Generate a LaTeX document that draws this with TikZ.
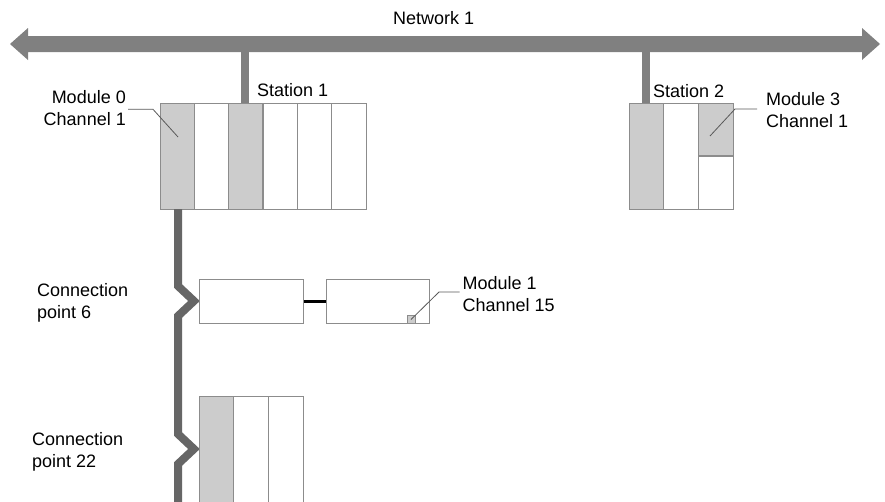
\documentclass[tikz,border=0pt]{standalone}
\usepackage{fontspec}
\setmainfont{Liberation Sans}
\usetikzlibrary{arrows.meta}
\definecolor{netgray}{HTML}{808080}
\definecolor{busgray}{HTML}{666666}
\definecolor{edgegray}{HTML}{8C8C8C}
\definecolor{slotgray}{HTML}{CCCCCC}
\begin{document}
\begin{tikzpicture}[x=1pt,y=-1pt,
  lab/.style={inner sep=0pt, font=\fontsize{18}{21.5}\selectfont},
  rack/.style={draw=edgegray, line width=1.3pt, inner sep=0pt, anchor=north west},
  divider/.style={draw=edgegray, line width=1.3pt},
  slotfill/.style={fill=slotgray},
  drop/.style={draw=netgray, line width=8pt},
  fieldbus/.style={draw=busgray, line width=8pt, line join=miter, miter limit=10},
  leader/.style={draw=black!65, line width=0.8pt},
  link/.style={draw=black, line width=3pt}]
\clip (0,0) rectangle (885,501);
\fill[white] (0,0) rectangle (885,501);

% network bus
\coordinate (netL) at (10,44);
\coordinate (netR) at (880,44);
\fill[netgray] (netL) -- (28,28) -- (28,36) -- (862,36) -- (862,28) -- (netR)
  -- (862,60) -- (862,52) -- (28,52) -- (28,60) -- cycle;
\node[lab, anchor=base west] (netlab) at (393,24) {Network 1};

% station 1
\fill[slotfill] (160,103) rectangle (194.33,209);
\fill[slotfill] (228.67,103) rectangle (263,209);
\node[rack, minimum width=206pt, minimum height=106pt] (st1) at (160,103) {};
\foreach \x in {194.33,228.67,263,297.33,331.67}
  \draw[divider] (\x,103) -- (\x,209);
\coordinate (tap1) at (245,44);
\draw[drop] (tap1) -- (tap1 |- st1.north);
\node[lab, anchor=base west] (st1lab) at (257,96.7) {Station 1};

% station 2
\fill[slotfill] (629,103) rectangle (663.67,209);
\fill[slotfill] (698.33,103) rectangle (733,156);
\node[rack, minimum width=104pt, minimum height=106pt] (st2) at (629,103) {};
\draw[divider] (663.67,103) -- (663.67,209);
\draw[divider] (698.33,103) -- (698.33,209);
\draw[divider] (698.33,156) -- (733,156);
\coordinate (tap2) at (646,44);
\draw[drop] (tap2) -- (tap2 |- st2.north);
\node[lab, anchor=base west] (st2lab) at (653,97) {Station 2};

% labels module 0 / module 3
\node[lab, align=right, anchor=east] (m0lab) at (126,108) {Module 0\\Channel 1};
\coordinate (ch1a) at (178,137);
\draw[leader] ([xshift=2pt,yshift=-1.3pt]m0lab.east) -- (153,109.3) -- (ch1a);

\node[lab, align=left, anchor=west] (m3lab) at (766,110) {Module 3\\Channel 1};
\coordinate (ch1b) at (710,136);
\draw[leader] ([xshift=-9pt,yshift=1pt]m3lab.west) -- (735,109) -- (ch1b);

% field bus from station 1
\coordinate (b0) at (178,209);
\coordinate (k1a) at (178,286);
\coordinate (cp6) at (194,301);
\coordinate (k1b) at (178,316);
\coordinate (k2a) at (178,434);
\coordinate (cp22) at (194,449);
\coordinate (k2b) at (178,464);
\coordinate (bend) at (178,510);
\draw[fieldbus] (b0) -- (k1a) -- (cp6) -- (k1b) -- (k2a) -- (cp22) -- (k2b) -- (bend);

% connection point 6
\node[rack, fill=white, minimum width=104pt, minimum height=44pt] (boxA) at (199,279) {};
\node[rack, fill=white, minimum width=103pt, minimum height=44pt] (boxB) at (326,279) {};
\draw[link] (boxA.east) -- (boxB.west);
\node[draw=edgegray, fill=slotgray, line width=0.8pt, minimum size=8pt, inner sep=0pt] (ch15) at (411,319.5) {};
\node[lab, align=left, anchor=west] (m1lab) at (462.5,294) {Module 1\\Channel 15};
\draw[leader] (ch15.center) -- (439,292) -- ([xshift=-3pt,yshift=2pt]m1lab.west);
\node[lab, align=left, anchor=west] (cp6lab) at (37,303) {Connection\\point 6};

% connection point 22
\fill[slotfill] (199,396) rectangle (233.67,520);
\node[rack, minimum width=104pt, minimum height=124pt] (boxC) at (199,396) {};
\draw[divider] (233.67,396) -- (233.67,520);
\draw[divider] (268.33,396) -- (268.33,520);
\node[lab, align=left, anchor=west] (cp22lab) at (32,452) {Connection\\point 22};
\end{tikzpicture}
\end{document}
